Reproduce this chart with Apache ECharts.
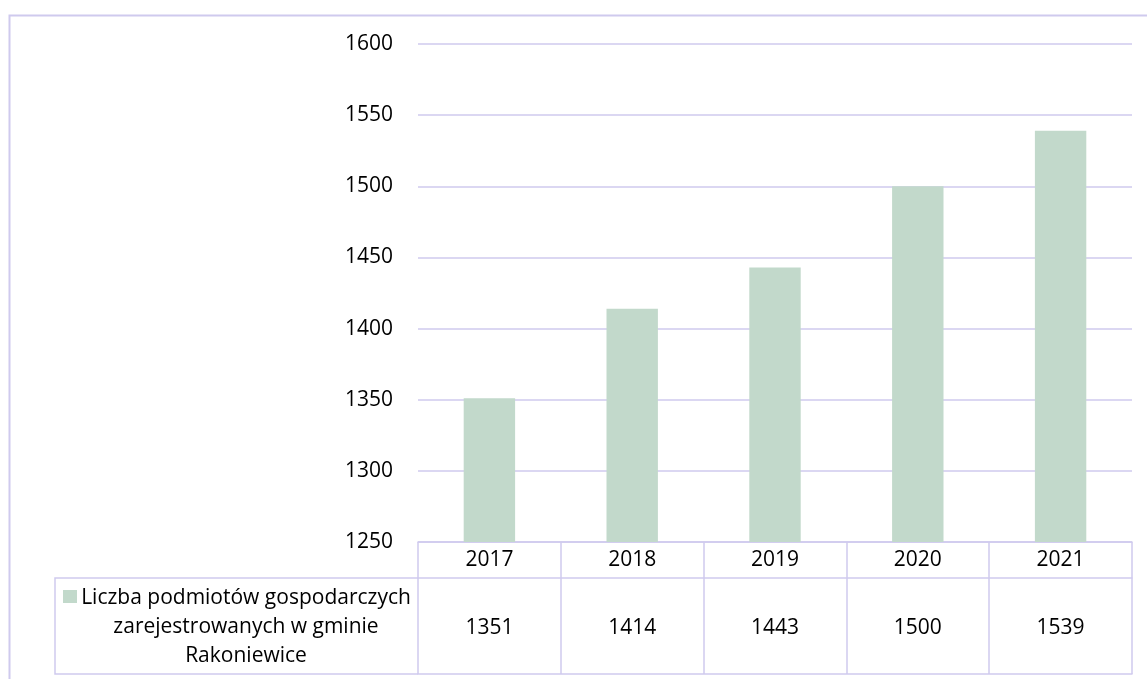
<!DOCTYPE html>
<html>
<head>
<meta charset="utf-8">
<script src="https://cdn.jsdelivr.net/npm/echarts@6/dist/echarts.min.js"></script>
<style>
  html, body { margin: 0; padding: 0; background: #fff; }
  #chart { width: 1147px; height: 679px; }
</style>
</head>
<body>
<div id="chart"></div>
<script>
// dane z wykresu
const years = ['2017', '2018', '2019', '2020', '2021'];
const counts = [1351, 1414, 1443, 1500, 1539];
const seriesName = 'Liczba podmiotów gospodarczych zarejestrowanych w gminie Rakoniewice';
const legendLines = ['Liczba podmiotów gospodarczych', 'zarejestrowanych w gminie', 'Rakoniewice'];
const yMin = 1250;
const yMax = 1600;
const yStep = 50;

const lineColor = '#cfcaee';
const barColor = '#c2d9cb';
const font = '"Open Sans", "Liberation Sans", sans-serif';
const fontSize = 21;

const chart = echarts.init(document.getElementById('chart'));

const option = {
  animation: false,
  backgroundColor: '#fff',
  textStyle: { fontFamily: font, color: '#000' },
  grid: { left: 418, right: 15, top: 44, bottom: 137, containLabel: false },
  xAxis: [
    {
      // wiersz z latami + pionowe linie tabeli
      type: 'category',
      data: years,
      position: 'bottom',
      axisLine: { show: true, lineStyle: { color: lineColor, width: 1.5 } },
      axisTick: { show: true, length: 132, lineStyle: { color: lineColor, width: 1.5 } },
      axisLabel: { margin: 8, fontSize: fontSize, fontFamily: font, color: '#000' },
      splitLine: { show: false }
    },
    {
      // wiersz z wartościami
      type: 'category',
      data: counts.map(String),
      position: 'bottom',
      offset: 36,
      axisLine: { show: true, lineStyle: { color: lineColor, width: 1.5 } },
      axisTick: { show: false },
      axisLabel: { margin: 40, fontSize: fontSize, fontFamily: font, color: '#000' }
    },
    {
      // dolna krawędź tabeli
      type: 'category',
      data: years,
      position: 'bottom',
      offset: 132,
      axisLine: { show: true, lineStyle: { color: lineColor, width: 1.5 } },
      axisTick: { show: false },
      axisLabel: { show: false }
    }
  ],
  yAxis: {
    type: 'value',
    min: yMin,
    max: yMax,
    interval: yStep,
    axisLine: { show: false },
    axisTick: { show: false },
    axisLabel: {
      margin: 25,
      fontSize: fontSize,
      fontFamily: font,
      color: '#000',
      formatter: (v) => String(v)
    },
    splitLine: { lineStyle: { color: lineColor, width: 1.5 } }
  },
  series: [
    {
      name: seriesName,
      type: 'bar',
      xAxisIndex: 0,
      data: counts,
      barWidth: '36%',
      itemStyle: { color: barColor }
    }
  ],
  graphic: [
    // ramka wykresu
    {
      type: 'rect',
      shape: { x: 9.5, y: 15.5, width: 1300, height: 1000 },
      style: { fill: 'none', stroke: lineColor, lineWidth: 2 },
      silent: true
    },
    // komórka legendy w tabeli
    {
      type: 'polyline',
      shape: { points: [[418, 578], [55, 578], [55, 674], [418, 674]] },
      style: { fill: 'none', stroke: lineColor, lineWidth: 1.5 },
      silent: true
    },
    {
      type: 'rect',
      shape: { x: 63, y: 590, width: 14, height: 13 },
      style: { fill: barColor },
      silent: true
    },
    {
      type: 'text',
      x: 246,
      y: 627,
      style: {
        text: legendLines.join('\n'),
        fontFamily: font,
        fontSize: fontSize,
        lineHeight: 29,
        fill: '#000',
        align: 'center',
        verticalAlign: 'middle'
      },
      silent: true
    }
  ]
};

chart.setOption(option);
</script>
</body>
</html>
